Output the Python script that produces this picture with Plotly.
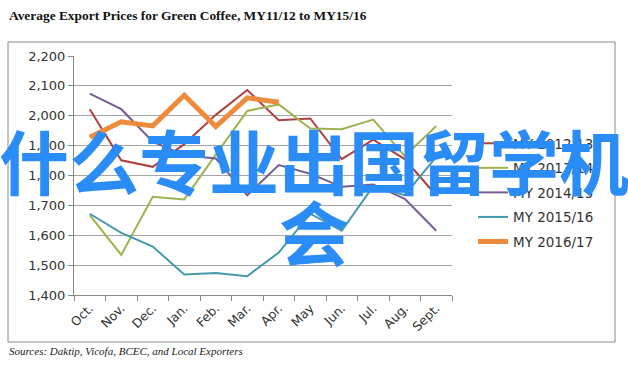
import plotly.graph_objects as go

months = ["Oct.", "Nov.", "Dec.", "Jan.", "Feb.", "Mar.", "Apr.", "May", "Jun.", "Jul.", "Aug.", "Sept."]
my_2012_13 = [2022, 1851, 1829, 1905, 2003, 2086, 1985, 1991, 1855, 1920, 1855, 1733]
my_2013_14 = [1667, 1534, 1729, 1720, 1870, 2016, 2038, 1957, 1955, 1987, 1865, 1966]
my_2014_15 = [2074, 2022, 1913, 1868, 1857, 1734, 1835, 1806, 1762, 1770, 1722, 1615]
my_2015_16 = [1672, 1608, 1562, 1469, 1474, 1463, 1542, 1672, 1615, 1764, 1734, 1862]
my_2016_17 = [1928, 1980, 1966, 2069, 1964, 2060, 2045]

series = [
    ("MY 2012/13", my_2012_13, "#B0403E", 2),
    ("MY 2013/14", my_2013_14, "#9BB450", 2),
    ("MY 2014/15", my_2014_15, "#775D91", 2),
    ("MY 2015/16", my_2015_16, "#4399AB", 2),
    ("MY 2016/17", my_2016_17, "#EE8A3C", 5),
]
y_ticks = [1400, 1500, 1600, 1700, 1800, 1900, 2000, 2100, 2200]
y_tick_text = ["1,400", "1,500", "1,600", "1,700", "1,800", "1,900", "2,000", "2,100", "2,200"]

title = "Average Export Prices for Green Coffee, MY11/12 to MY15/16"
source = "Sources: Daktip, Vicofa, BCEC, and Local Exporters"
watermark1 = "什么专业出国留学机"
watermark2 = "会"

fig = go.Figure()
for i, (name, vals, color, w) in enumerate(series):
    fig.add_trace(go.Scatter(
        x=months[:len(vals)], y=vals, name=name, mode="lines",
        line=dict(color=color, width=w), legendgroup=str(i),
    ))

# plot-area pixel geometry
L, R, T, B = 74, 452, 56, 295
W, H = R - L, B - T
def px(x):
    return (x - L) / W
def py(y):
    return (B - y) / H

fig.update_layout(
    width=628, height=372,
    margin=dict(l=L, r=628 - R, t=T, b=372 - B),
    paper_bgcolor="white", plot_bgcolor="white",
    font=dict(family="DejaVu Sans", size=13, color="#333333"),
    showlegend=True,
    legend=dict(x=px(473), y=py(128), xanchor="left", yanchor="top",
                font=dict(size=13.5, color="#333333"), tracegroupgap=4,
                itemwidth=30, bgcolor="rgba(0,0,0,0)"),
    xaxis=dict(type="category", categoryorder="array", categoryarray=months,
               range=[-0.5, 11.5], tickangle=-45, tickson="boundaries",
               ticks="outside", ticklen=5, tickcolor="#888888",
               showline=True, linecolor="#888888", linewidth=1,
               showgrid=False, tickfont=dict(size=12.5, color="#333333")),
    yaxis=dict(range=[1400, 2200], tickvals=y_ticks, ticktext=y_tick_text,
               ticks="outside", ticklen=5, tickcolor="#888888",
               showline=True, linecolor="#888888", linewidth=1,
               showgrid=True, gridcolor="#A6A6A6", gridwidth=1,
               zeroline=False, tickfont=dict(size=13, color="#333333")),
    shapes=[dict(type="rect", xref="paper", yref="paper",
                 x0=px(8), x1=px(615), y0=py(342), y1=py(42),
                 line=dict(color="#8A8A8A", width=1), layer="below")],
    annotations=[
        dict(text="<b>" + title + "</b>", xref="paper", yref="paper",
             x=px(7), y=py(15), xanchor="left", yanchor="middle", showarrow=False,
             font=dict(family="Liberation Serif", size=13.4, color="#111111")),
        dict(text="<i>" + source + "</i>", xref="paper", yref="paper",
             x=px(7), y=py(351), xanchor="left", yanchor="middle", showarrow=False,
             font=dict(family="Liberation Serif", size=11, color="#222222")),
        dict(text="<b>" + watermark1 + "</b>", xref="paper", yref="paper",
             x=px(314), y=py(159), xanchor="center", yanchor="middle", showarrow=False,
             font=dict(family="Noto Sans CJK SC", size=70, color="#2A8CF7")),
        dict(text="<b>" + watermark2 + "</b>", xref="paper", yref="paper",
             x=px(314), y=py(230), xanchor="center", yanchor="middle", showarrow=False,
             font=dict(family="Noto Sans CJK SC", size=70, color="#2A8CF7")),
    ],
)

fig.write_html("out.html")
